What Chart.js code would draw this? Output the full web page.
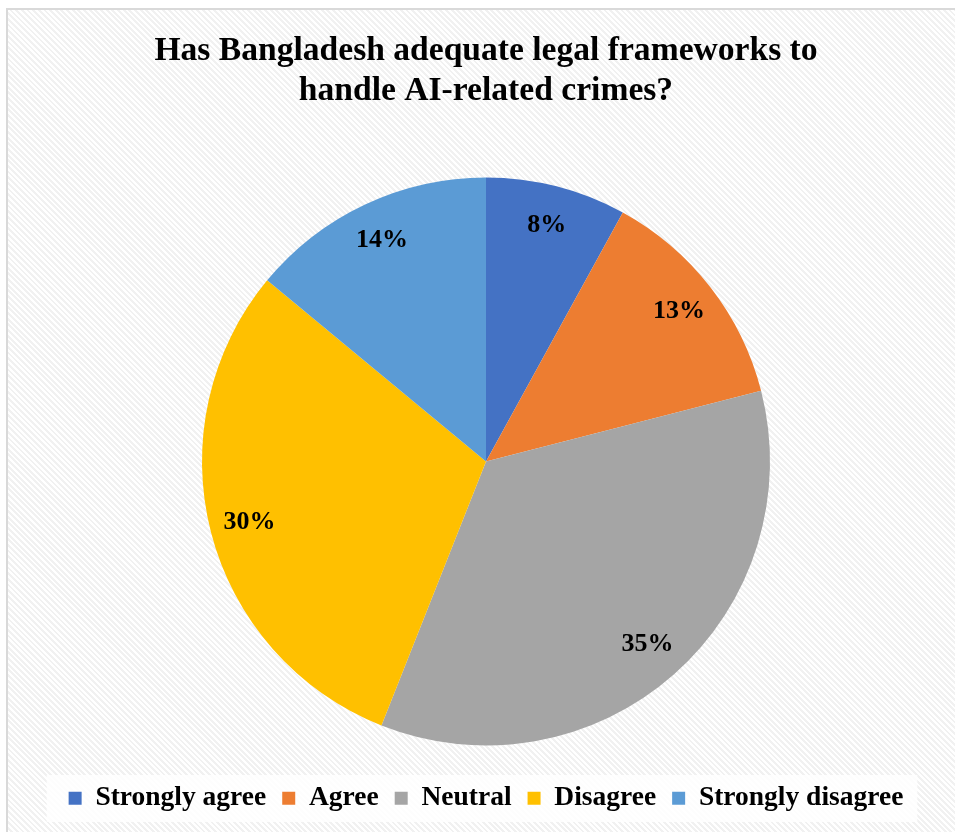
<!DOCTYPE html>
<html>
<head>
<meta charset="utf-8">
<script src="https://cdn.jsdelivr.net/npm/chart.js@4"></script>
<style>
  html, body { margin: 0; padding: 0; background: #fff; }
  #card {
    position: absolute; left: 6px; top: 8px; width: 949px; height: 824px;
    border-top: 2px solid #d9d9d9; border-left: 2px solid #d9d9d9;
    box-sizing: border-box;
    background: repeating-linear-gradient(45deg, #ffffff 0px, #ffffff 2px, #f1f1f1 2px, #f1f1f1 4px);
  }
  #wrap { position: absolute; left: 0; top: 0; width: 955px; height: 832px; }
</style>
</head>
<body>
<div id="card"></div>
<div id="wrap"><canvas id="pieChart"></canvas></div>
<script>
// Données du graphique
const categories = ['Strongly agree', 'Agree', 'Neutral', 'Disagree', 'Strongly disagree'];
const percents = [8, 13, 35, 30, 14];
const sliceColors = ['#4472C4', '#ED7D31', '#A5A5A5', '#FFC000', '#5B9BD5'];

const serif = "'Liberation Serif', 'Times New Roman', serif";

// Fond blanc derrière la légende
const legendBg = {
  id: 'legendBg',
  beforeDraw(chart) {
    const lg = chart.legend;
    if (!lg || !lg.legendHitBoxes || !lg.legendHitBoxes.length) return;
    const boxes = lg.legendHitBoxes;
    const left = Math.min(...boxes.map(b => b.left)) - 22;
    const right = Math.max(...boxes.map(b => b.left + b.width)) + 14;
    const ctx = chart.ctx;
    ctx.save();
    ctx.fillStyle = 'rgba(255,255,255,0.85)';
    ctx.fillRect(left, 775, right - left, 47);
    ctx.restore();
  }
};

// Étiquettes de pourcentage sur les tranches
const sliceLabels = {
  id: 'sliceLabels',
  afterDatasetsDraw(chart) {
    const ctx = chart.ctx;
    const meta = chart.getDatasetMeta(0);
    ctx.save();
    ctx.font = "bold 26px " + serif;
    ctx.fillStyle = '#000';
    ctx.textAlign = 'center';
    ctx.textBaseline = 'middle';
    meta.data.forEach((arc, i) => {
      const p = arc.getProps(['x', 'y', 'startAngle', 'endAngle', 'outerRadius']);
      const mid = (p.startAngle + p.endAngle) / 2;
      const r = p.outerRadius * 0.86;
      ctx.fillText(percents[i] + '%', p.x + Math.cos(mid) * r, p.y + Math.sin(mid) * r);
    });
    ctx.restore();
  }
};

const ctx = document.getElementById('pieChart').getContext('2d');
new Chart(ctx, {
  type: 'pie',
  data: {
    labels: categories,
    datasets: [{
      data: percents,
      backgroundColor: sliceColors,
      borderWidth: 0,
      radius: 284
    }]
  },
  options: {
    responsive: true,
    maintainAspectRatio: false,
    animation: false,
    layout: { padding: { top: 0, bottom: 10, left: 17, right: 0 } },
    plugins: {
      title: {
        display: true,
        text: ['Has Bangladesh adequate legal frameworks to', 'handle AI-related crimes?'],
        color: '#000',
        font: { family: serif, size: 33.6, weight: 'bold', lineHeight: 1.18 },
        padding: { top: 32, bottom: 43 }
      },
      legend: {
        position: 'bottom',
        labels: {
          color: '#000',
          font: { family: serif, size: 27.5, weight: 'bold' },
          boxWidth: 13,
          boxHeight: 13,
          padding: 16
        }
      },
      tooltip: { enabled: false }
    }
  },
  plugins: [legendBg, sliceLabels]
});
</script>
</body>
</html>
